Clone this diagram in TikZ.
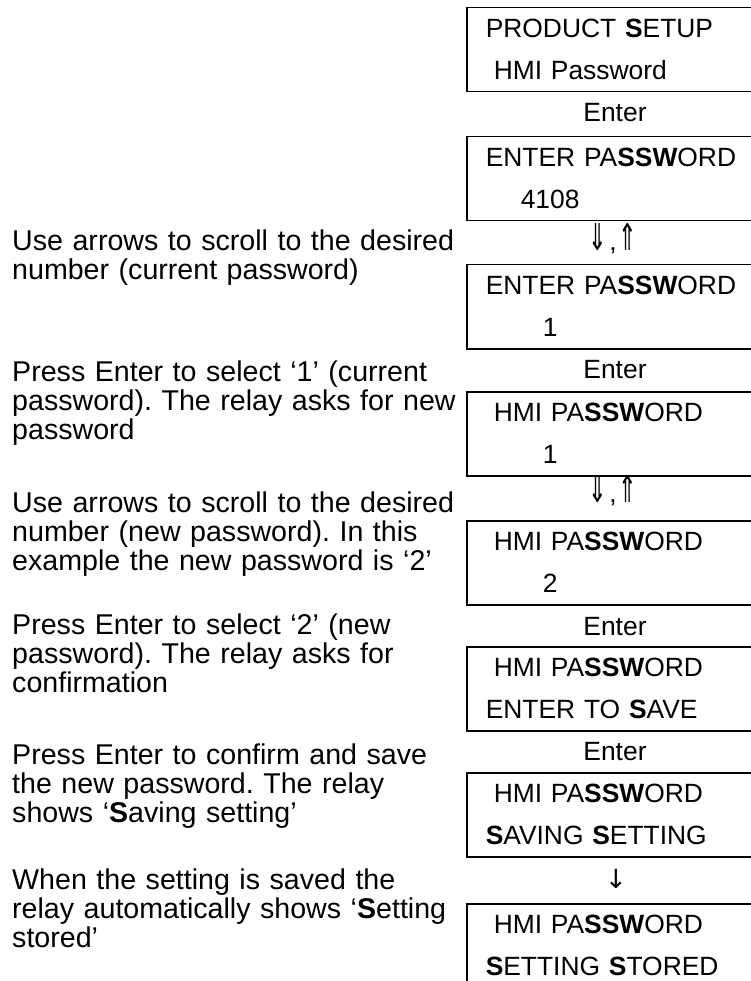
\documentclass[tikz,border=0pt]{standalone}
\usepackage{fontspec}
\setmainfont{Liberation Sans}
\newfontfamily\arrowfont[FakeStretch=0.6]{DejaVu Sans}
\newfontfamily\downfont{DejaVu Sans}
\usetikzlibrary{positioning}
\frenchspacing

\tikzset{
  screen/.style={draw, line width=1.5pt, anchor=north west, minimum height=84pt,
    text width=300pt, inner xsep=19pt, inner ysep=0pt, align=left,
    font=\fontsize{26.4}{42}\selectfont},
  keylabel/.style={anchor=base, inner sep=0pt, font=\fontsize{26.4}{30}\selectfont},
  note/.style={anchor=base west, inner sep=0pt, text width=455pt, align=left,
    font=\fontsize{28.6}{29}\selectfont}
}
\newcommand{\updown}{{\arrowfont\fontsize{37}{40}\selectfont ⇓}\kern2pt,\kern2pt{\arrowfont\fontsize{37}{40}\selectfont ⇑}}

\begin{document}
\begin{tikzpicture}[x=1pt,y=-1pt]
\useasboundingbox (0,0) rectangle (751,981);
\clip (0,0) rectangle (751,981);

% relay screens
\node[screen] (scr1) at (466,7) {PRODUCT \textbf{S}ETUP\\\hspace*{8pt}HMI Password};
\node[screen] (scr2) at (466,136) {ENTER PA\textbf{SSW}ORD\\\hspace*{35pt}4108};
\node[screen] (scr3) at (466,264) {ENTER PA\textbf{SSW}ORD\\\hspace*{57pt}1};
\node[screen] (scr4) at (466,391) {\hspace*{8pt}HMI PA\textbf{SSW}ORD\\\hspace*{57pt}1};
\node[screen] (scr5) at (466,520) {\hspace*{8pt}HMI PA\textbf{SSW}ORD\\\hspace*{57pt}2};
\node[screen] (scr6) at (466,646) {\hspace*{8pt}HMI PA\textbf{SSW}ORD\\ENTER TO \textbf{S}AVE};
\node[screen] (scr7) at (466,772) {\hspace*{8pt}HMI PA\textbf{SSW}ORD\\\textbf{S}AVING \textbf{S}ETTING};
\node[screen] (scr8) at (466,903) {\hspace*{8pt}HMI PA\textbf{SSW}ORD\\\textbf{S}ETTING \textbf{S}TORED};

% keys between the screens
\node[keylabel] (key1) at (615,122) {Enter};
\node[keylabel] (key2) at (613,251) {\updown};
\node[keylabel] (key3) at (615,378) {Enter};
\node[keylabel] (key4) at (613,502) {\updown};
\node[keylabel] (key5) at (615,635) {Enter};
\node[keylabel] (key6) at (615,760) {Enter};
\node[keylabel] (key7) at (616,888) {\downfont ↓};

% notes on the left
\node[note] (note1) at (12,251) {Use arrows to scroll to the desired\\number (current password)};
\node[note] (note2) at (12,381) {Press Enter to select ‘1’ (current\\password). The relay asks for new\\password};
\node[note] (note3) at (12,512) {Use arrows to scroll to the desired\\number (new password). In this\\example the new password is ‘2’};
\node[note] (note4) at (12,634) {Press Enter to select ‘2’ (new\\password). The relay asks for\\confirmation};
\node[note] (note5) at (12,764) {Press Enter to confirm and save\\the new password. The relay\\shows ‘\textbf{S}aving setting’};
\node[note] (note6) at (12,889) {When the setting is saved the\\relay automatically shows ‘\textbf{S}etting\\stored’};
\end{tikzpicture}
\end{document}
